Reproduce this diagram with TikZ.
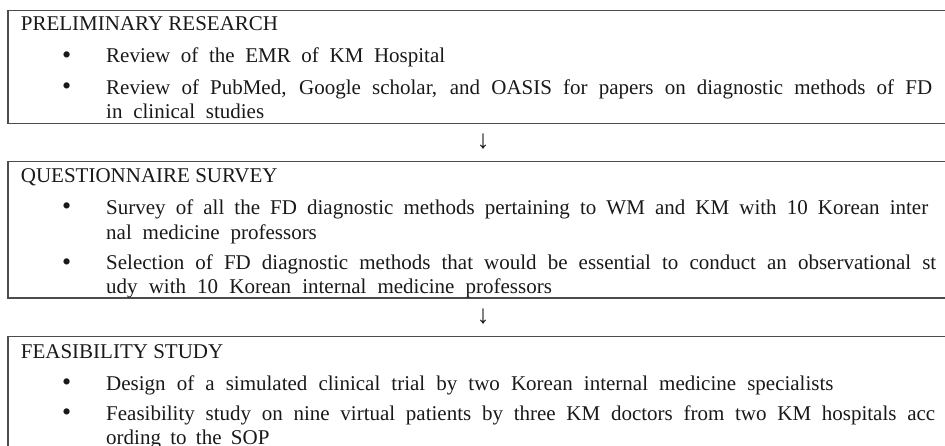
\documentclass[tikz,border=0pt]{standalone}
\usepackage{fontspec}
\setmainfont{Liberation Serif}
\begin{document}
\begin{tikzpicture}[x=1pt,y=-1pt,
  txt/.style={anchor=base west,inner sep=0pt,text=black!90,font=\fontsize{21}{25}\selectfont},
  bul/.style={anchor=base,inner sep=0pt,text=black!90,font=\fontsize{26}{28}\selectfont},
  arr/.style={inner sep=0pt,text=black!90,font=\fontsize{26}{28}\selectfont},
  boxline/.style={draw=black!70,line width=1.2pt}]
\useasboundingbox (0,0) rectangle (945,445);
\clip (0,0) rectangle (945,445);
% boxes
\draw[boxline] (960,10.7) -- (8,10.7) -- (8,123.3) -- (960,123.3);
\draw[boxline] (960,161.7) -- (8,161.7) -- (8,298) -- (960,298);
\draw[boxline] (960,336.7) -- (8,336.7) -- (8,470);
% box 1
\node[txt] (h1) at (20.7,30.7) {PRELIMINARY RESEARCH};
\node[bul] (b11) at (66.7,63) {\textbullet};
\node[txt] (t11) at (106,62.3) {\makebox[339pt][s]{Review of the EMR of KM Hospital}};
\node[bul] (b12) at (66.7,94.7) {\textbullet};
\node[txt] (t12) at (106,94) {\makebox[826pt][s]{Review of PubMed, Google scholar, and OASIS for papers on diagnostic methods of FD}};
\node[txt] (t12b) at (106,118.3) {\makebox[158pt][s]{in clinical studies}};
\node[arr] (a1) at (483,142) {↓};
% box 2
\node[txt] (h2) at (20.7,182.3) {QUESTIONNAIRE SURVEY};
\node[bul] (b21) at (66.7,214.7) {\textbullet};
\node[txt] (t21) at (106,214) {\makebox[822pt][s]{Survey of all the FD diagnostic methods pertaining to WM and KM with 10 Korean inter}};
\node[txt] (t21b) at (106,239) {\makebox[210.7pt][s]{nal medicine professors}};
\node[bul] (b22) at (66.7,270) {\textbullet};
\node[txt] (t22) at (106,269.3) {\makebox[830pt][s]{Selection of FD diagnostic methods that would be essential to conduct an observational st}};
\node[txt] (t22b) at (106,293.3) {\makebox[445.7pt][s]{udy with 10 Korean internal medicine professors}};
\node[arr] (a2) at (483,317) {↓};
% box 3
\node[txt] (h3) at (20.7,358.3) {FEASIBILITY STUDY};
\node[bul] (b31) at (66.7,390.7) {\textbullet};
\node[txt] (t31) at (106,390) {\makebox[727.3pt][s]{Design of a simulated clinical trial by two Korean internal medicine specialists}};
\node[bul] (b32) at (66.7,420.7) {\textbullet};
\node[txt] (t32) at (106,420) {\makebox[829pt][s]{Feasibility study on nine virtual patients by three KM doctors from two KM hospitals acc}};
\node[txt] (t32b) at (106,444) {\makebox[163.3pt][s]{ording to the SOP}};
\end{tikzpicture}
\end{document}
